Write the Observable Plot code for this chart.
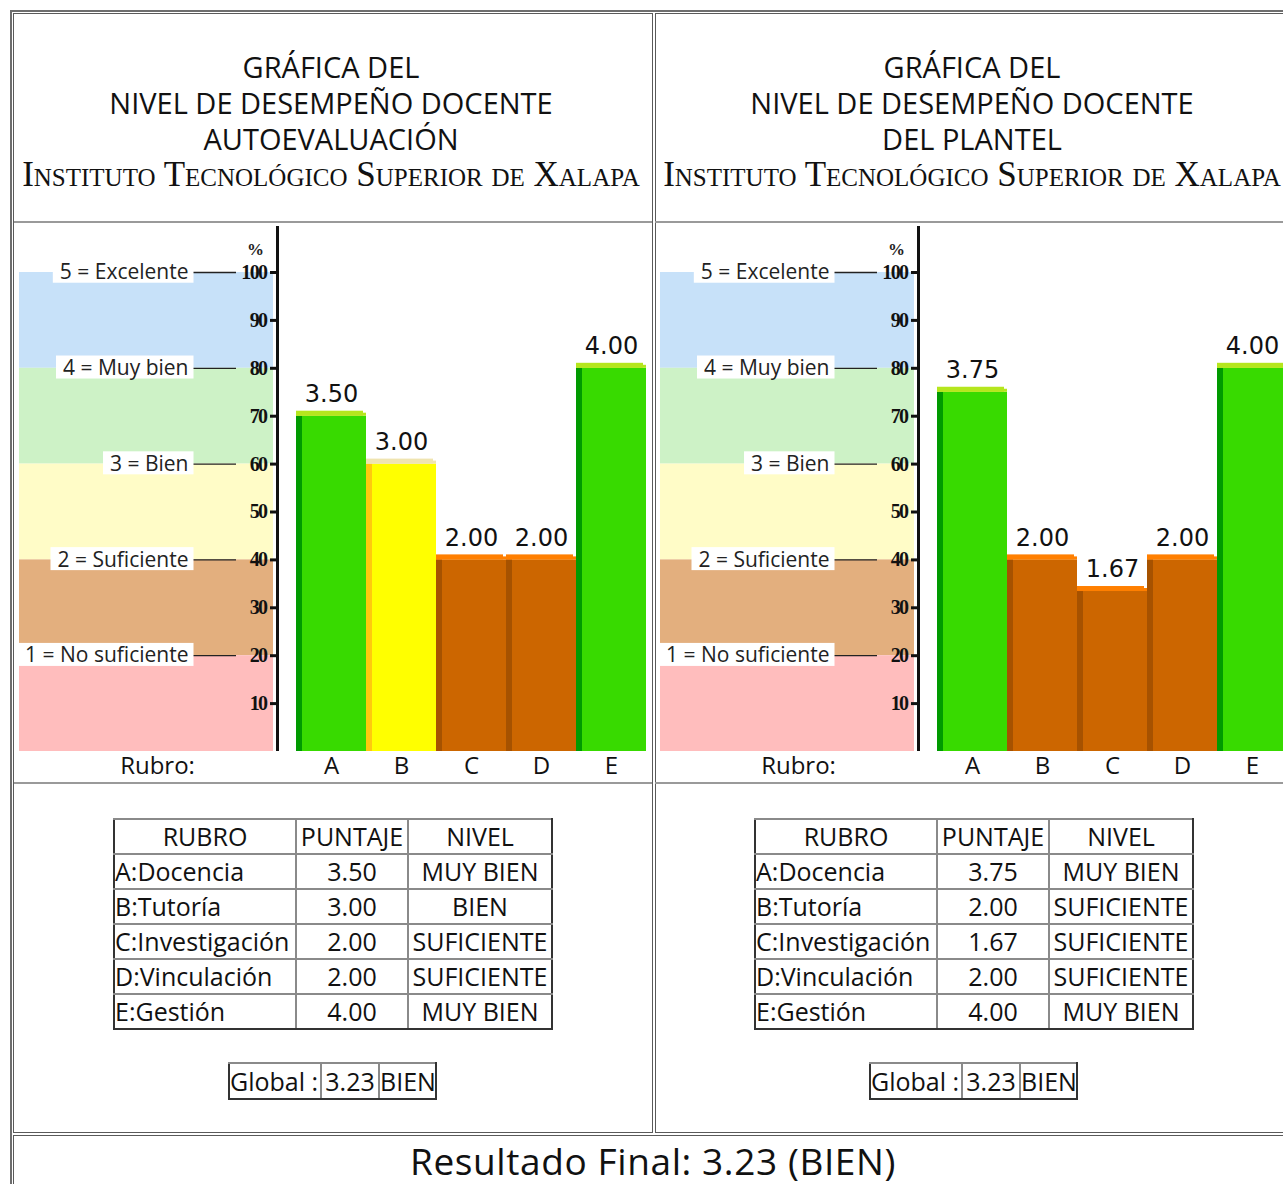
<!DOCTYPE html>
<html><head><meta charset="utf-8">
<script src="https://cdn.jsdelivr.net/npm/d3@7"></script>
<script src="https://cdn.jsdelivr.net/npm/@observablehq/plot@0.6"></script>
<style>
body{margin:0;width:1283px;height:1184px;overflow:hidden;position:relative;background:#fff;font-family:"Open Sans",sans-serif;color:#111;}
.ln{position:absolute;background:#6e6e6e}
.cell{position:absolute;box-sizing:border-box;border:1px solid #5a5a5a}
.sep{position:absolute;height:2px;background:#9a9a9a}
.title{position:absolute;top:49px;width:640px;text-align:center;font-size:29px;line-height:36px;white-space:nowrap}
.sc{font-family:"Liberation Serif",serif;font-variant:small-caps;font-size:35px;}
.chart{position:absolute;top:224px;width:638px;height:558px}
.chart svg{max-width:none !important}
table.t{position:absolute;border-collapse:collapse;table-layout:fixed;font-size:25px;line-height:1}
table.t td{border:2px solid #8a8a8a;padding:0;white-space:nowrap;overflow:hidden;color:#111}
table.t td.c{text-align:center}
table.t td.l{text-align:left}
table.t tr:first-child td{border-top-color:#333}
table.t tr:last-child td{border-bottom-color:#333}
table.t td:first-child{border-left-color:#333}
table.t td:last-child{border-right-color:#333}
.final{position:absolute;top:1136px;left:13px;width:1280px;text-align:center;font-size:37px;line-height:50px;letter-spacing:0.6px}
g[aria-label="y-axis tick label"] text{letter-spacing:-1.6px}
</style>
</head><body>
<script>
// ---------- data ----------
const categories = ["A","B","C","D","E"];
const rubroNames = ["A:Docencia","B:Tutoría","C:Investigación","D:Vinculación","E:Gestión"];
const autoScores = [3.50, 3.00, 2.00, 2.00, 4.00];
const autoLevels = ["MUY BIEN","BIEN","SUFICIENTE","SUFICIENTE","MUY BIEN"];
const plantelScores = [3.75, 2.00, 1.67, 2.00, 4.00];
const plantelLevels = ["MUY BIEN","SUFICIENTE","SUFICIENTE","SUFICIENTE","MUY BIEN"];
const globalScores = [3.23, 3.23];
const globalLevels = ["BIEN","BIEN"];
const finalScore = 3.23;
const finalLevel = "BIEN";
const scaleValues = [100, 80, 60, 40, 20];
const scaleLabels = ["5 = Excelente","4 = Muy bien","3 = Bien","2 = Suficiente","1 = No suficiente"];
const bandLow = [80, 60, 40, 20, 0];
const bandHigh = [100, 80, 60, 40, 20];
const yTicks = [10, 20, 30, 40, 50, 60, 70, 80, 90, 100];
const panelTitles = [
  ["GRÁFICA DEL","NIVEL DE DESEMPEÑO DOCENTE","AUTOEVALUACIÓN"],
  ["GRÁFICA DEL","NIVEL DE DESEMPEÑO DOCENTE","DEL PLANTEL"]
];
const institution = "Instituto Tecnológico Superior de Xalapa";
const tableHeaders = ["RUBRO","PUNTAJE","NIVEL"];
const xAxisTitle = "Rubro:";
const percentSign = "%";

// ---------- styles ----------
const bandColors = ["#c7e1f9","#cdf2c6","#fffcc7","#e3af7e","#ffbdbd"];
const barStyle = {
  "MUY BIEN":   {main:"#38da00", side:"#009a00", top:"#b5e61d"},
  "BIEN":       {main:"#ffff00", side:"#ffc90e", top:"#efe4b0"},
  "SUFICIENTE": {main:"#cc6600", side:"#a65200", top:"#ff7f00"}
};
const panelOffsets = [0, 641];

// ---------- layout frame ----------
function div(cls, css, html) {
  const d = document.createElement("div");
  d.className = cls;
  Object.assign(d.style, css);
  if (html != null) d.innerHTML = html;
  document.body.appendChild(d);
  return d;
}
div("ln", {left:"10px", top:"10px", width:"1300px", height:"2px"});
div("ln", {left:"10px", top:"10px", width:"2px", height:"1200px"});
div("cell", {left:"13px", top:"13px", width:"640px", height:"1120px"});
div("cell", {left:"655px", top:"13px", width:"700px", height:"1120px"});
div("cell", {left:"13px", top:"1135px", width:"1300px", height:"100px"});

function makeChart(scores, levels) {
  const data = categories.map((c, i) => ({cat: c, pct: scores[i] / 5 * 100, score: scores[i], level: levels[i]}));
  const bands = bandLow.map((lo, i) => ({lo, hi: bandHigh[i], color: bandColors[i]}));
  const lv = scaleValues.map((v, i) => ({v, label: scaleLabels[i]}));
  return Plot.plot({
    width: 638, height: 558,
    marginLeft: 5, marginRight: 5, marginTop: 48, marginBottom: 31,
    style: {background: "transparent", overflow: "visible", fontFamily: "Open Sans", color: "#111", maxWidth: "none"},
    x: {type: "band", domain: categories, padding: 0, insetLeft: 276, label: null},
    y: {domain: [0, 100], label: null},
    color: {type: "identity"},
    marks: [
      Plot.rect(bands, {y1: "lo", y2: "hi", fill: "color", insetRight: 374}),
      Plot.ruleY(lv, {y: "v", stroke: "#222", strokeWidth: 1.3, insetLeft: 172, insetRight: 411}),
      Plot.text(lv, {y: "v", text: "label", frameAnchor: "left", textAnchor: "end", dx: 169, fontSize: 21, fill: "#222"}),
      Plot.axisY(yTicks, {anchor: "left", tickSize: 8, tickPadding: 4, dx: 259, strokeWidth: 3, stroke: "#111",
        fontFamily: "Liberation Serif", fontWeight: "bold", fontSize: 20, fill: "#111", label: null}),
      Plot.ruleX([0], {x: null, dx: -56, strokeWidth: 3, stroke: "#111", insetTop: -46}),
      Plot.text([percentSign], {frameAnchor: "top-left", textAnchor: "middle", dx: 236, dy: -30, fontFamily: "Liberation Serif", fontWeight: "bold", fontSize: 17, fill: "#222"}),
      Plot.barY(data, {x: "cat", y: "pct", fill: d => barStyle[d.level].main}),
      Plot.barY(data, {x: "cat", y: "pct", fill: d => barStyle[d.level].side, insetRight: 64}),
      Plot.barY(data, {x: "cat", y1: "pct", y2: "pct", fill: d => barStyle[d.level].top, insetTop: -3}),
      Plot.barY(data, {x: "cat", y1: "pct", y2: "pct", fill: d => barStyle[d.level].top, insetTop: -5, insetRight: 3}),
      Plot.text(data, {x: "cat", y: "pct", text: d => d.score.toFixed(2), dy: -22, fontSize: 24, fontFamily: "DejaVu Sans", fill: "#111"}),
      Plot.axisX({tickSize: 0, tickPadding: 5, fontSize: 24, fill: "#111", label: null}),
      Plot.text([xAxisTitle], {frameAnchor: "bottom-left", textAnchor: "middle", dx: 138, dy: 5, lineAnchor: "top", fontSize: 24, fill: "#111"})
    ]
  });
}

function addLabelBoxes(svg) {
  svg.querySelectorAll("text").forEach(t => {
    if (!scaleLabels.includes(t.textContent)) return;
    const b = t.getBBox();
    const r = document.createElementNS("http://www.w3.org/2000/svg", "rect");
    const cy = b.y + b.height / 2;
    r.setAttribute("x", b.x - 7);
    r.setAttribute("width", b.width + 12);
    r.setAttribute("y", cy - 11.5);
    r.setAttribute("height", 23);
    r.setAttribute("fill", "white");
    if (t.getAttribute("transform")) r.setAttribute("transform", t.getAttribute("transform"));
    t.parentNode.insertBefore(r, t);
  });
}

function makeTable(left, top, widths, height, rows, aligns) {
  const tbl = document.createElement("table");
  tbl.className = "t";
  tbl.style.left = left + "px";
  tbl.style.top = top + "px";
  tbl.style.width = widths.reduce((a, b) => a + b, 0) + "px";
  const cg = document.createElement("colgroup");
  widths.forEach(w => { const c = document.createElement("col"); c.style.width = w + "px"; cg.appendChild(c); });
  tbl.appendChild(cg);
  rows.forEach((row, ri) => {
    const tr = document.createElement("tr");
    row.forEach((v, ci) => {
      const td = document.createElement("td");
      td.textContent = v;
      td.style.height = (height - 2) + "px";
      td.className = aligns(ri, ci);
      tr.appendChild(td);
    });
    tbl.appendChild(tr);
  });
  document.body.appendChild(tbl);
}

const panels = [
  {scores: autoScores, levels: autoLevels},
  {scores: plantelScores, levels: plantelLevels}
];
panels.forEach((p, k) => {
  const off = panelOffsets[k];
  div("title", {left: (11 + off) + "px"},
    panelTitles[k].join("<br>") + '<br><span class="sc">' + institution + "</span>");
  div("sep", {left: (14 + off) + "px", top: "221px", width: "638px"});
  div("sep", {left: (14 + off) + "px", top: "782px", width: "638px"});
  const holder = div("chart", {left: (14 + off) + "px"});
  const svg = makeChart(p.scores, p.levels);
  holder.appendChild(svg);
  addLabelBoxes(svg);
  const rows = [tableHeaders].concat(rubroNames.map((r, i) => [r, p.scores[i].toFixed(2), p.levels[i]]));
  makeTable(113 + off, 818, [182, 112, 144], 35, rows, (ri, ci) => (ri > 0 && ci === 0) ? "l" : "c");
  makeTable(228 + off, 1062, [92, 58, 57], 36, [["Global :", globalScores[k].toFixed(2), globalLevels[k]]], (ri, ci) => ci === 0 ? "l" : "c");
});
div("final", {}, "Resultado Final: " + finalScore.toFixed(2) + " (" + finalLevel + ")");
</script>
</body></html>
